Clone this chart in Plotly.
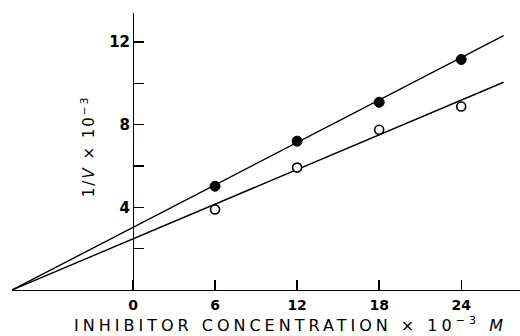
import plotly.graph_objects as go

# ---- data ----
conc = [6, 12, 18, 24]                      # inhibitor concentration x 10^-3 M
inv_v_filled = [5.02, 7.2, 9.08, 11.15]      # 1/V x 10^-3, filled circles
inv_v_open = [3.9, 5.92, 7.75, 8.88]         # 1/V x 10^-3, open circles

line_x = [-8.85, 27.1]                       # fitted lines (Dixon plot)
line_upper_y = [0.0, 12.31]
line_lower_y = [0.0, 10.05]

x_tickvals = [0, 6, 12, 18, 24]
x_ticktext = ["0", "6", "12", "18", "24"]
y_tickvals = [4, 8, 12]
y_ticktext = ["4", "8", "12"]

# ---- layout constants ----
XMIN, XMAX = -8.85, 28.3
YMIN, YMAX = 0.0, 13.4
FONT = "DejaVu Sans"

fig = go.Figure()
fig.add_trace(go.Scatter(x=line_x, y=line_upper_y, mode="lines",
                         line=dict(color="black", width=1.4), showlegend=False))
fig.add_trace(go.Scatter(x=line_x, y=line_lower_y, mode="lines",
                         line=dict(color="black", width=1.4), showlegend=False))
fig.add_trace(go.Scatter(x=conc, y=inv_v_filled, mode="markers",
                         marker=dict(symbol="circle", size=10, color="black",
                                     line=dict(color="black", width=1)),
                         showlegend=False))
fig.add_trace(go.Scatter(x=conc, y=inv_v_open, mode="markers",
                         marker=dict(symbol="circle", size=9, color="white",
                                     line=dict(color="black", width=1.6)),
                         showlegend=False))

fig.update_layout(
    width=520, height=336,
    margin=dict(l=12, r=0, t=13, b=46),
    plot_bgcolor="white", paper_bgcolor="white",
    font=dict(family=FONT, color="black"),
    xaxis=dict(range=[XMIN, XMAX], showgrid=False, zeroline=False,
               showline=True, linecolor="black", linewidth=1.4,
               ticks="inside", ticklen=10, tickwidth=1.4, tickcolor="black",
               tickvals=x_tickvals, ticktext=x_ticktext,
               tickfont=dict(family=FONT, size=14, weight="bold"),
               ticklabelstandoff=2),
    yaxis=dict(range=[YMIN, YMAX], showgrid=False, zeroline=False,
               anchor="free", position=(0 - XMIN) / (XMAX - XMIN),
               showline=True, linecolor="black", linewidth=1.4,
               ticks="inside", ticklen=10, tickwidth=1.4, tickcolor="black",
               tickvals=y_tickvals, ticktext=y_ticktext,
               tickfont=dict(family=FONT, size=15, weight="bold"),
               minor=dict(tick0=0, dtick=2, ticks="inside", ticklen=10,
                          tickwidth=1.4, tickcolor="black", showgrid=False)),
    annotations=[
        dict(text="1/<i>V</i> × 10<sup>−3</sup>", textangle=-90,
             xref="x", yref="y", x=-3.3, y=6.95,
             xanchor="center", yanchor="middle", showarrow=False,
             font=dict(family=FONT, size=15)),
        dict(text="INHIBITOR CONCENTRATION × 10<sup>−3</sup> <i>M</i>",
             xref="paper", yref="paper", x=0.549, y=-0.124,
             xanchor="center", yanchor="middle", showarrow=False,
             font=dict(family=FONT, size=16)),
    ],
)

post = """
document.body.style.margin = '0';
var t = document.querySelectorAll('.annotation-text');
if (t.length > 1) { t[0].style.letterSpacing = '2px'; t[1].style.letterSpacing = '4px'; }
"""
fig.write_html("out.html", post_script=post,
               config={"displayModeBar": False, "staticPlot": True})
